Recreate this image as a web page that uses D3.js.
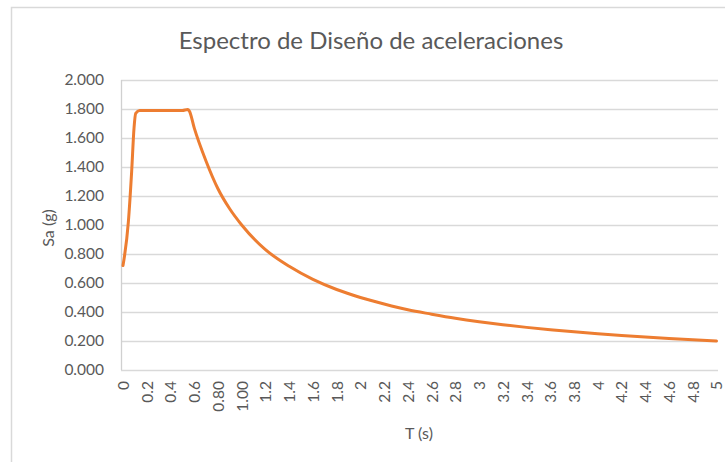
<!DOCTYPE html>
<html>
<head>
<meta charset="utf-8">
<script src="https://cdn.jsdelivr.net/npm/d3@7"></script>
<style>
  html, body { margin: 0; padding: 0; background: #ffffff; }
  svg { display: block; }
  text { font-family: Lato, "Open Sans", sans-serif; fill: #595959; }
</style>
</head>
<body>
<svg id="chart" width="725" height="462"></svg>
<script>
// Periodo T (s) y aceleración espectral Sa (g)
const periods = [0, 0.045, 0.073, 0.093, 0.107, 0.14, 0.3, 0.5, 0.545, 0.56, 0.6, 0.7,
  0.8, 0.9, 1.0, 1.2, 1.4, 1.6, 1.8, 2.0, 2.2, 2.4, 2.6, 2.8, 3.0, 3.2, 3.4, 3.6, 3.8,
  4.0, 4.2, 4.4, 4.6, 4.8, 5.0];
const saValues = [0.72, 1.02, 1.37, 1.67, 1.77, 1.79, 1.79, 1.79, 1.797, 1.785, 1.67, 1.44,
  1.25, 1.11, 1.0, 0.83, 0.715, 0.625, 0.555, 0.5, 0.455, 0.415, 0.385, 0.357, 0.333,
  0.312, 0.294, 0.278, 0.263, 0.25, 0.238, 0.227, 0.217, 0.208, 0.2];

// Etiquetas del eje horizontal
const xTickValues = [0, 0.2, 0.4, 0.6, 0.8, 1.0, 1.2, 1.4, 1.6, 1.8, 2.0, 2.2, 2.4, 2.6,
  2.8, 3.0, 3.2, 3.4, 3.6, 3.8, 4.0, 4.2, 4.4, 4.6, 4.8, 5.0];
const xTickLabels = ["0", "0.2", "0.4", "0.6", "0.80", "1.00", "1.2", "1.4", "1.6", "1.8", "2",
  "2.2", "2.4", "2.6", "2.8", "3", "3.2", "3.4", "3.6", "3.8", "4", "4.2", "4.4", "4.6", "4.8", "5"];
const yTickValues = [0, 0.2, 0.4, 0.6, 0.8, 1.0, 1.2, 1.4, 1.6, 1.8, 2.0];

const titleText = "Espectro de Diseño de aceleraciones";
const xTitle = "T (s)";
const yTitle = "Sa (g)";

const svg = d3.select("#chart");

// Marco del gráfico
svg.append("rect")
  .attr("x", 11.5).attr("y", 7.5)
  .attr("width", 760).attr("height", 500)
  .attr("fill", "none").attr("stroke", "#d9d9d9").attr("stroke-width", 1.5);

const plot = { left: 121, right: 718, top: 80, bottom: 370 };

const x = d3.scaleLinear().domain([0, 5]).range([123, 716.5]);
const y = d3.scaleLinear().domain([0, 2]).range([plot.bottom, plot.top]);

// Líneas de división horizontales
svg.append("g")
  .selectAll("line")
  .data(yTickValues)
  .join("line")
  .attr("x1", plot.left).attr("x2", plot.right)
  .attr("y1", d => Math.round(y(d)) + 0.5).attr("y2", d => Math.round(y(d)) + 0.5)
  .attr("stroke", "#d9d9d9").attr("stroke-width", 1.3);

// Eje vertical (línea)
svg.append("line")
  .attr("x1", plot.left + 0.5).attr("x2", plot.left + 0.5)
  .attr("y1", plot.top).attr("y2", plot.bottom)
  .attr("stroke", "#d0d0d0").attr("stroke-width", 1.3);

// Eje Y con etiquetas
const yAxis = d3.axisLeft(y)
  .tickValues(yTickValues)
  .tickFormat(d3.format(".3f"))
  .tickSize(0)
  .tickPadding(17);
const yg = svg.append("g")
  .attr("transform", `translate(${plot.left},0)`)
  .call(yAxis);
yg.select(".domain").remove();
yg.selectAll("text")
  .style("font-family", "Lato, sans-serif")
  .style("font-size", "15.5px")
  .attr("fill", "#595959");

// Eje X con etiquetas giradas
const xAxis = d3.axisBottom(x)
  .tickValues(xTickValues)
  .tickFormat((d, i) => xTickLabels[i])
  .tickSize(0);
const xg = svg.append("g")
  .attr("transform", `translate(0,${plot.bottom})`)
  .call(xAxis);
xg.select(".domain").remove();
xg.selectAll("text")
  .style("font-family", "Lato, sans-serif")
  .style("font-size", "15.5px")
  .attr("fill", "#595959")
  .attr("text-anchor", "end")
  .attr("transform", "translate(0,11) rotate(-90)")
  .attr("x", 0).attr("y", 0)
  .attr("dy", "0.35em");

// Curva del espectro
const line = d3.line()
  .x(d => x(d[0]))
  .y(d => y(d[1]))
  .curve(d3.curveMonotoneX);

svg.append("path")
  .datum(periods.map((t, i) => [t, saValues[i]]))
  .attr("d", line)
  .attr("fill", "none")
  .attr("stroke", "#ED7D31")
  .attr("stroke-width", 3)
  .attr("stroke-linejoin", "round")
  .attr("stroke-linecap", "round");

// Títulos
svg.append("text")
  .attr("x", 371).attr("y", 48.5)
  .attr("text-anchor", "middle")
  .style("font-size", "24px")
  .text(titleText);

svg.append("text")
  .attr("x", 419).attr("y", 439)
  .attr("text-anchor", "middle")
  .style("font-size", "16px")
  .text(xTitle);

svg.append("text")
  .attr("transform", "translate(54,228) rotate(-90)")
  .attr("text-anchor", "middle")
  .style("font-size", "16px")
  .text(yTitle);
</script>
</body>
</html>
